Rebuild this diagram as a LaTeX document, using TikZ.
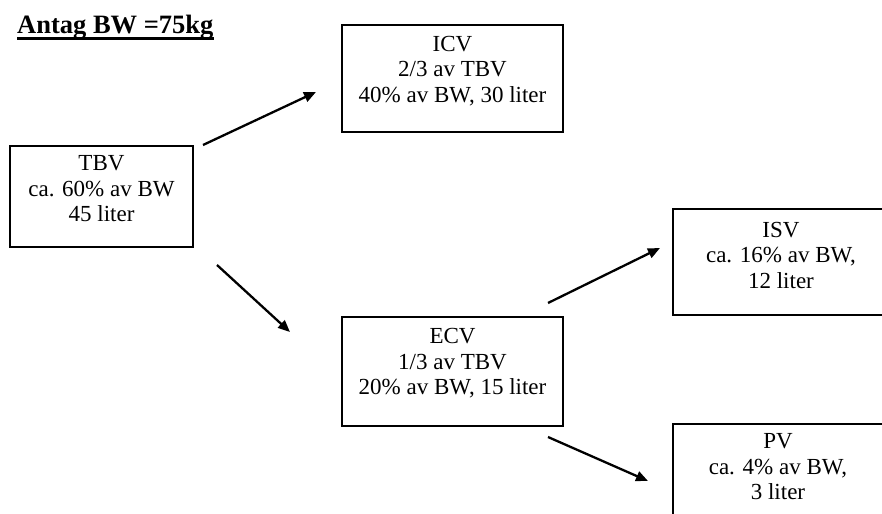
\documentclass[tikz,border=0pt]{standalone}
\usepackage{fontspec}
\setmainfont{Liberation Serif}
\usetikzlibrary{arrows.meta}
\tikzset{
  box/.style={draw, line width=2bp, rectangle, inner sep=0pt},
  txt/.style={align=center, inner sep=0pt, font=\fontsize{23bp}{25.5bp}\selectfont},
  arr/.style={line width=2.3bp, -{Triangle[length=12bp,width=10bp]}}
}
\begin{document}
\begin{tikzpicture}[x=1bp,y=-1bp]
\useasboundingbox (0,0) rectangle (882,514);
\clip (0,0) rectangle (882,514);
% title
\node[anchor=base west, inner sep=0pt, font=\fontsize{26.5bp}{29bp}\selectfont\bfseries] (title) at (17,33.5) {Antag BW =75kg};
\draw[line width=2.4bp] ([yshift=-5bp]title.base west) -- ([yshift=-5bp]title.base east);
% boxes
\node[box, minimum width=183bp, minimum height=101bp] (tbv) at (101.5,196.5) {};
\node[box, minimum width=221bp, minimum height=107bp] (icv) at (452.5,78.5) {};
\node[box, minimum width=221bp, minimum height=109bp] (ecv) at (452.5,371.5) {};
\node[box, minimum width=216bp, minimum height=106bp] (isv) at (781,262) {};
\node[box, minimum width=216bp, minimum height=106bp] (pv) at (781,477) {};
% texts
\node[txt] (tbvt) at (101.5,189) {TBV\\ca. 60\% av BW\\45 liter};
\node[txt] (icvt) at (452.5,71) {ICV\\2/3 av TBV\\40\% av BW, 30 liter};
\node[txt] (ecvt) at (452.5,363.5) {ECV\\1/3 av TBV\\20\% av BW, 15 liter};
\node[txt] (isvt) at (781,255) {ISV\\ca. 16\% av BW,\\12 liter};
\node[txt] (pvt) at (778,467) {PV\\ca. 4\% av BW,\\3 liter};
% arrow end points
\coordinate (a1s) at (203,145); \coordinate (a1e) at (316,92);
\coordinate (a2s) at (217,265); \coordinate (a2e) at (290,332);
\coordinate (a3s) at (548,303); \coordinate (a3e) at (660,248);
\coordinate (a4s) at (548,437); \coordinate (a4e) at (648,481);
\draw[arr] (a1s) -- (a1e);
\draw[arr] (a2s) -- (a2e);
\draw[arr] (a3s) -- (a3e);
\draw[arr] (a4s) -- (a4e);
\end{tikzpicture}
\end{document}
